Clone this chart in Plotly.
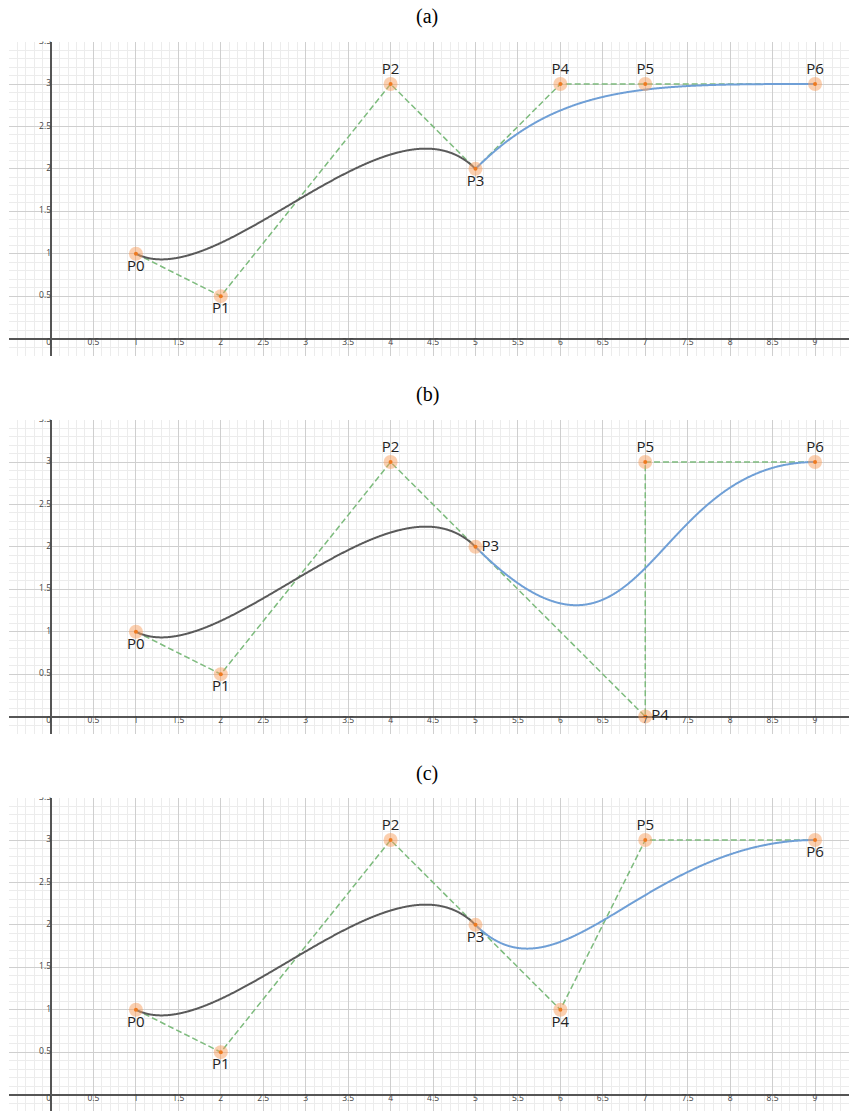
import numpy as np
import plotly.graph_objects as go

W, H = 849, 1111

# Control points P0..P6 for each panel (first four are shared)
panel_titles = ["(a)", "(b)", "(c)"]
pts_x = [
    [1, 2, 4, 5, 6, 7, 9],
    [1, 2, 4, 5, 7, 7, 9],
    [1, 2, 4, 5, 6, 7, 9],
]
pts_y = [
    [1, 0.5, 3, 2, 3, 3, 3],
    [1, 0.5, 3, 2, 0, 3, 3],
    [1, 0.5, 3, 2, 1, 3, 3],
]
point_names = ["P0", "P1", "P2", "P3", "P4", "P5", "P6"]
label_pos = [
    ["bottom center", "bottom center", "top center", "bottom center", "top center", "top center", "top center"],
    ["bottom center", "bottom center", "top center", "middle right", "middle right", "top center", "top center"],
    ["bottom center", "bottom center", "top center", "bottom center", "bottom center", "top center", "bottom center"],
]

# Tick labels drawn next to the axes
x_tick_vals = [-0.5, 0.5, 1, 1.5, 2, 2.5, 3, 3.5, 4, 4.5, 5, 5.5, 6, 6.5, 7, 7.5, 8, 8.5, 9]
x_tick_text = ["-0.5", "0.5", "1", "1.5", "2", "2.5", "3", "3.5", "4", "4.5", "5", "5.5", "6", "6.5", "7", "7.5", "8", "8.5", "9"]
y_tick_vals = [0.5, 1, 1.5, 2, 2.5, 3, 3.5]
y_tick_text = ["0.5", "1", "1.5", "2", "2.5", "3", "3.5"]

# Pixel layout of the panels
X_RANGE = [-0.495, 9.4]
UNIT = 84.85
PANEL_TOP = 41.6
PANEL_STEP = 378
PANEL_H = 314.4
LEFT_PX = 9

C_CURVE1 = "#5a5a5a"
C_CURVE2 = "#6f9fd6"
C_POLY = "#7dbb7d"
C_HALO = "rgba(247,160,95,0.5)"
C_DOT = "#ee7a20"
TICK_FONT = dict(family="Open Sans, sans-serif", size=8.5, color="#444444")


def bezier(xs, ys, n=400):
    t = np.linspace(0, 1, n)
    b = [(1 - t) ** 3, 3 * (1 - t) ** 2 * t, 3 * (1 - t) * t ** 2, t ** 3]
    bx = sum(bi * xi for bi, xi in zip(b, xs))
    by = sum(bi * yi for bi, yi in zip(b, ys))
    return bx, by


fig = go.Figure()
layout = dict(
    width=W, height=H, margin=dict(l=0, r=0, t=0, b=0),
    paper_bgcolor="white", plot_bgcolor="white", showlegend=False,
    annotations=[],
)

for k in range(3):
    sfx = "" if k == 0 else str(k + 1)
    xa, ya = "x" + sfx, "y" + sfx
    top_px = PANEL_TOP + PANEL_STEP * k
    bot_px = min(top_px + PANEL_H, H)
    y_lo = 3.5 - (bot_px - top_px) / UNIT

    axis_common = dict(
        showticklabels=False, ticks="", showline=False,
        dtick=0.5, tick0=0, showgrid=True, gridcolor="#cfcfcf", gridwidth=1,
        minor=dict(dtick=0.1, tick0=0, showgrid=True, gridcolor="#ececec", gridwidth=1),
        zeroline=True, zerolinecolor="#555555", zerolinewidth=1.5,
        fixedrange=True,
    )
    layout["xaxis" + sfx] = dict(
        axis_common, range=X_RANGE, domain=[LEFT_PX / W, 1], anchor=ya,
    )
    layout["yaxis" + sfx] = dict(
        axis_common, range=[y_lo, 3.5],
        domain=[1 - bot_px / H, 1 - top_px / H], anchor=xa,
    )

    px, py = pts_x[k], pts_y[k]

    # control polygon
    fig.add_trace(go.Scatter(
        x=px, y=py, mode="lines", xaxis=xa, yaxis=ya,
        line=dict(color=C_POLY, width=1.5, dash="6px,3px"), hoverinfo="skip",
    ))
    # first cubic segment
    bx, by = bezier(px[0:4], py[0:4])
    fig.add_trace(go.Scatter(
        x=bx, y=by, mode="lines", xaxis=xa, yaxis=ya,
        line=dict(color=C_CURVE1, width=2, shape="spline"), hoverinfo="skip",
    ))
    # second cubic segment
    bx, by = bezier(px[3:7], py[3:7])
    fig.add_trace(go.Scatter(
        x=bx, y=by, mode="lines", xaxis=xa, yaxis=ya,
        line=dict(color=C_CURVE2, width=2, shape="spline"), hoverinfo="skip",
    ))
    # control points: halo, centre dot, name
    fig.add_trace(go.Scatter(
        x=px, y=py, mode="markers", xaxis=xa, yaxis=ya,
        marker=dict(size=14, color=C_HALO, line=dict(width=0)), hoverinfo="skip",
    ))
    fig.add_trace(go.Scatter(
        x=px, y=py, mode="markers", xaxis=xa, yaxis=ya,
        marker=dict(size=4, color=C_DOT), hoverinfo="skip",
    ))
    fig.add_trace(go.Scatter(
        x=px, y=py, mode="markers+text", xaxis=xa, yaxis=ya,
        marker=dict(size=8, color="rgba(0,0,0,0)"),
        text=point_names, textposition=label_pos[k],
        textfont=dict(family="Open Sans, DejaVu Sans, sans-serif", size=15, color="#222222"),
        cliponaxis=False, hoverinfo="skip",
    ))
    # axis tick labels
    fig.add_trace(go.Scatter(
        x=x_tick_vals, y=[0] * len(x_tick_vals), mode="text", xaxis=xa, yaxis=ya,
        text=x_tick_text, textposition="bottom center", textfont=TICK_FONT,
        cliponaxis=True, hoverinfo="skip",
    ))
    fig.add_trace(go.Scatter(
        x=[0] * len(y_tick_vals), y=y_tick_vals, mode="text", xaxis=xa, yaxis=ya,
        text=y_tick_text, textposition="middle left", textfont=TICK_FONT,
        cliponaxis=True, hoverinfo="skip",
    ))
    fig.add_trace(go.Scatter(
        x=[0], y=[0], mode="text", xaxis=xa, yaxis=ya,
        text=["0"], textposition="bottom left", textfont=TICK_FONT,
        cliponaxis=True, hoverinfo="skip",
    ))

    layout["annotations"].append(dict(
        text=panel_titles[k], xref="paper", yref="paper",
        x=0.503, y=1 - (17 + PANEL_STEP * k) / H, xanchor="center", yanchor="middle",
        showarrow=False,
        font=dict(family="Liberation Serif, Times New Roman, serif", size=20, color="black"),
    ))

fig.update_layout(**layout)
fig.write_html("out.html")
